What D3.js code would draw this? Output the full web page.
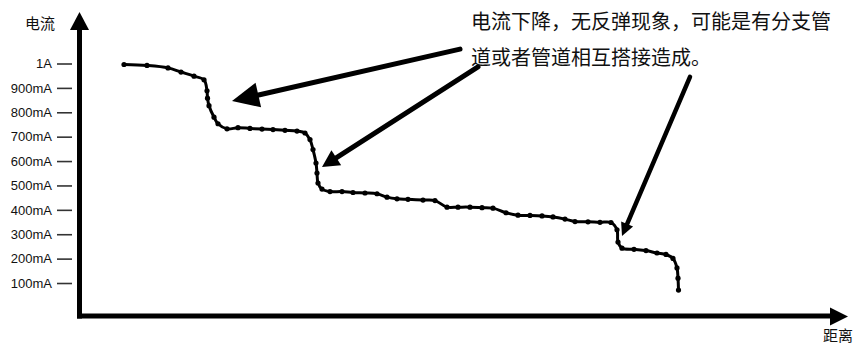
<!DOCTYPE html>
<html>
<head>
<meta charset="utf-8">
<script src="https://cdn.jsdelivr.net/npm/d3@7"></script>
<style>
  body { margin: 0; background: #fff; }
  svg { display: block; }
</style>
</head>
<body>
<script>
// distance along the pipe (no units shown on the chart)
var distance = [45, 68, 89, 102, 115, 125, 128, 128.5, 130, 135, 139, 148, 159, 171, 183, 194, 206, 218, 226, 231,
    234, 237, 238, 239, 243, 251, 263, 274, 286, 298, 308, 318, 329, 344, 356, 368, 379, 391, 403, 414,
    427, 439, 451, 463, 474, 486, 496, 509, 521, 532, 538, 539, 543, 555, 567, 578, 587, 594, 598, 599, 599.5];
// current in mA
var current = [996, 992, 982, 965, 948, 933, 888, 858, 827, 780, 753, 732, 737, 734, 731, 729, 726, 723, 715, 688,
    647, 592, 551, 510, 485, 475, 475, 471, 469, 466, 452, 445, 443, 440, 438, 411, 411, 411, 409, 407,
    388, 378, 377, 375, 371, 362, 352, 351, 349, 348, 318, 268, 243, 238, 233, 223, 217, 201, 162, 120, 71];

var tickValues = [100, 200, 300, 400, 500, 600, 700, 800, 900, 1000];
var tickLabels = ["100mA", "200mA", "300mA", "400mA", "500mA", "600mA", "700mA", "800mA", "900mA", "1A"];

// annotation arrows, in data coordinates: [dist, current]
var arrowFrom = [[381, 1059], [399, 986], [611, 945]];
var arrowTo = [[153, 846], [243, 576], [543, 293]];

var noteLines = ["电流下降，无反弹现象，可能是有分支管", "道或者管道相互搭接造成。"];

document.addEventListener("DOMContentLoaded", () => {
    drawChart();
});

function drawChart() {
    var width = 857, height = 347;
    var originX = 79.5, originY = 316;

    var svg = d3.select("body").append("svg")
        .attr("width", width)
        .attr("height", height);

    var x = d3.scaleLinear().domain([0, 770]).range([79, 849]);
    var y = d3.scaleLinear().domain([0, 1000]).range([307.4, 63.5]);

    var cjk = "'Noto Sans CJK SC', 'Noto Sans', sans-serif";

    // y axis ticks and labels
    var yAxis = d3.axisLeft(y)
        .tickValues(tickValues)
        .tickSize(15)
        .tickPadding(5)
        .tickFormat(function(d, i) { return tickLabels[i]; });

    var gy = svg.append("g")
        .attr("transform", "translate(72,0)")
        .call(yAxis);
    gy.select(".domain").remove();
    gy.selectAll(".tick line").attr("stroke", "#333").attr("stroke-width", 1.6);
    gy.selectAll(".tick text")
        .attr("fill", "#111")
        .style("font-family", "'Liberation Sans', Arial, sans-serif")
        .style("font-size", "13px");

    // axes with arrow heads
    svg.append("line")
        .attr("x1", originX).attr("y1", originY + 2.5)
        .attr("x2", originX).attr("y2", 28)
        .attr("stroke", "#000").attr("stroke-width", 5);
    svg.append("path")
        .attr("d", "M" + originX + ",12 L" + (originX + 9.5) + ",30 L" + (originX - 9.5) + ",30 Z")
        .attr("fill", "#000");

    svg.append("line")
        .attr("x1", originX - 2.5).attr("y1", originY)
        .attr("x2", 833).attr("y2", originY)
        .attr("stroke", "#000").attr("stroke-width", 5);
    svg.append("path")
        .attr("d", "M848," + (originY + 0.5) + " L830," + (originY - 8.5) + " L830," + (originY + 9.5) + " Z")
        .attr("fill", "#000");

    // axis titles
    svg.append("text")
        .attr("x", 25).attr("y", 29)
        .style("font-family", cjk).style("font-size", "15px")
        .attr("fill", "#111")
        .text("电流");
    svg.append("text")
        .attr("x", 823).attr("y", 341)
        .style("font-family", cjk).style("font-size", "15px")
        .attr("fill", "#111")
        .text("距离");

    // the current curve
    var pts = distance.map(function(d, i) { return [d, current[i]]; });
    var line = d3.line()
        .x(function(d) { return x(d[0]); })
        .y(function(d) { return y(d[1]); })
        .curve(d3.curveCatmullRom.alpha(0.5));

    svg.append("path")
        .datum(pts)
        .attr("d", line)
        .attr("fill", "none")
        .attr("stroke", "#000")
        .attr("stroke-width", 3)
        .attr("stroke-linejoin", "round");

    svg.selectAll("circle.pt")
        .data(pts)
        .enter().append("circle")
        .attr("class", "pt")
        .attr("cx", function(d) { return x(d[0]); })
        .attr("cy", function(d) { return y(d[1]); })
        .attr("r", 2.6)
        .attr("fill", "#000");

    // annotation arrows
    var headLen = [27, 17, 13], headW = [25, 18, 13], shaft = [5, 5, 4.5];
    arrowFrom.forEach(function(f, i) {
        var x1 = x(f[0]), y1 = y(f[1]);
        var x2 = x(arrowTo[i][0]), y2 = y(arrowTo[i][1]);
        var dx = x2 - x1, dy = y2 - y1, len = Math.sqrt(dx * dx + dy * dy);
        var ux = dx / len, uy = dy / len;
        var bx = x2 - ux * headLen[i], by = y2 - uy * headLen[i];
        var px = -uy * headW[i] / 2, py = ux * headW[i] / 2;

        svg.append("line")
            .attr("x1", x1).attr("y1", y1)
            .attr("x2", bx + ux * 2).attr("y2", by + uy * 2)
            .attr("stroke", "#000")
            .attr("stroke-width", shaft[i])
            .attr("stroke-linecap", "round");
        svg.append("path")
            .attr("d", "M" + x2 + "," + y2 + " L" + (bx + px) + "," + (by + py) + " L" + (bx - px) + "," + (by - py) + " Z")
            .attr("fill", "#000");
    });

    // note text
    svg.selectAll("text.note")
        .data(noteLines)
        .enter().append("text")
        .attr("class", "note")
        .attr("x", 471)
        .attr("y", function(d, i) { return 29 + i * 36; })
        .style("font-family", cjk)
        .style("font-size", "20px")
        .attr("fill", "#111")
        .text(function(d) { return d; });
}
</script>
</body>
</html>
